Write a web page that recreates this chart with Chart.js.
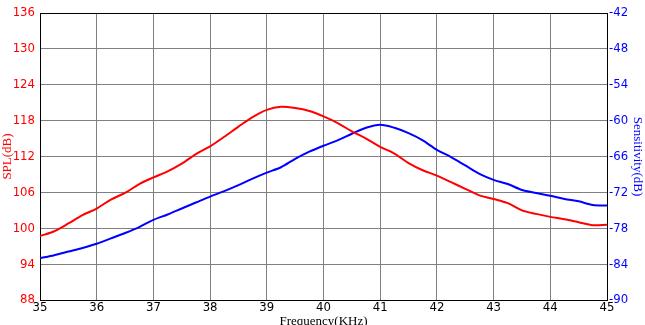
<!DOCTYPE html>
<html>
<head>
<meta charset="utf-8">
<script src="https://cdn.jsdelivr.net/npm/chart.js@4/dist/chart.umd.min.js"></script>
<style>
  body { margin: 0; background: #fff; }
  canvas { display: block; }
</style>
</head>
<body>
<canvas id="grafico" width="645" height="325"></canvas>
<script>
// Frecuencias (KHz)
const frecuencias = [
    35.00, 35.25, 35.50, 35.75, 36.00, 36.25, 36.50, 36.75, 37.00, 37.25,
    37.50, 37.75, 38.00, 38.25, 38.50, 38.75, 39.00, 39.25, 39.50, 39.75,
    40.00, 40.25, 40.50, 40.75, 41.00, 41.25, 41.50, 41.75, 42.00, 42.25,
    42.50, 42.75, 43.00, 43.25, 43.50, 43.75, 44.00, 44.25, 44.50, 44.75, 45.00
];

// SPL (dB) - eje izquierdo
const spl = [
    98.7, 99.5, 100.8, 102.2, 103.3, 104.8, 105.9, 107.4, 108.5, 109.5,
    110.8, 112.4, 113.7, 115.3, 117.0, 118.6, 119.8, 120.3, 120.1, 119.6,
    118.7, 117.6, 116.2, 115.0, 113.6, 112.5, 110.9, 109.7, 108.8, 107.7,
    106.6, 105.5, 104.9, 104.2, 103.0, 102.4, 101.9, 101.5, 101.0, 100.5, 100.6
];

// Sensibilidad (dB) - eje derecho
const sensibilidad = [
    -83.0, -82.5, -81.9, -81.3, -80.6, -79.7, -78.8, -77.8, -76.6, -75.7,
    -74.7, -73.7, -72.7, -71.8, -70.8, -69.7, -68.7, -67.8, -66.4, -65.2,
    -64.2, -63.3, -62.2, -61.2, -60.7, -61.2, -62.1, -63.3, -64.9, -66.1,
    -67.5, -68.9, -69.9, -70.6, -71.6, -72.1, -72.55, -73.1, -73.5, -74.1, -74.2
];

// Rangos de los ejes
const ejeX = { min: 35, max: 45, paso: 1 };
const ejeSPL = { min: 88, max: 136, paso: 6 };
const ejeSens = { min: -90, max: -42, paso: 6 };

const fuenteTicks = { family: "'Liberation Sans Narrow', 'DejaVu Sans Condensed', 'Liberation Sans', sans-serif", size: 13 };
const fuenteTitulo = { family: "'Liberation Serif', serif", size: 13 };

const ctx = document.getElementById('grafico').getContext('2d');

new Chart(ctx, {
    type: 'line',
    data: {
        datasets: [{
            label: 'SPL(dB)',
            data: frecuencias.map((f, i) => ({ x: f, y: spl[i] })),
            borderColor: '#ff0000',
            borderWidth: 2,
            pointRadius: 0,
            tension: 0.3,
            yAxisID: 'y'
        }, {
            label: 'Sensitivity(dB)',
            data: frecuencias.map((f, i) => ({ x: f, y: sensibilidad[i] })),
            borderColor: '#0000ff',
            borderWidth: 2,
            pointRadius: 0,
            tension: 0.3,
            yAxisID: 'y2'
        }]
    },
    options: {
        responsive: false,
        animation: false,
        layout: { padding: { top: 13, left: 0, right: 0, bottom: 0 } },
        plugins: {
            legend: { display: false },
            tooltip: { enabled: false }
        },
        scales: {
            x: {
                type: 'linear',
                min: ejeX.min,
                max: ejeX.max,
                afterFit: (s) => { s.height = 25; },
                grid: {
                    color: (c) => (c.tick && (c.tick.value === ejeX.min || c.tick.value === ejeX.max)) ? '#000' : '#808080',
                    lineWidth: 1,
                    drawTicks: false
                },
                border: { color: '#000', width: 1 },
                ticks: {
                    stepSize: ejeX.paso,
                    autoSkip: false,
                    maxRotation: 0,
                    padding: 0,
                    color: '#000',
                    font: fuenteTicks
                },
                title: {
                    display: true,
                    text: 'Frequency(KHz)',
                    color: '#000',
                    font: fuenteTitulo,
                    padding: { top: 0, bottom: -4 }
                }
            },
            y: {
                position: 'left',
                min: ejeSPL.min,
                max: ejeSPL.max,
                afterFit: (s) => { s.width = 40; },
                grid: {
                    color: (c) => (c.tick && c.tick.value === ejeSPL.max) ? '#000' : '#808080',
                    lineWidth: 1,
                    drawTicks: false
                },
                border: { color: '#000', width: 1 },
                ticks: {
                    stepSize: ejeSPL.paso,
                    padding: 5,
                    color: '#ff0000',
                    font: fuenteTicks
                },
                title: {
                    display: true,
                    text: 'SPL(dB)',
                    color: '#ff0000',
                    font: fuenteTitulo,
                    padding: { top: 0, bottom: 0 }
                }
            },
            y2: {
                position: 'right',
                min: ejeSens.min,
                max: ejeSens.max,
                afterFit: (s) => { s.width = 38; },
                grid: { display: false, drawTicks: false },
                border: { color: '#000', width: 1 },
                ticks: {
                    stepSize: ejeSens.paso,
                    padding: 2,
                    color: '#0000ff',
                    font: fuenteTicks
                },
                title: {
                    display: true,
                    text: 'Sensitivity(dB)',
                    color: '#0000ff',
                    font: fuenteTitulo,
                    padding: { top: 0, bottom: 0 }
                }
            }
        }
    }
});
</script>
</body>
</html>
